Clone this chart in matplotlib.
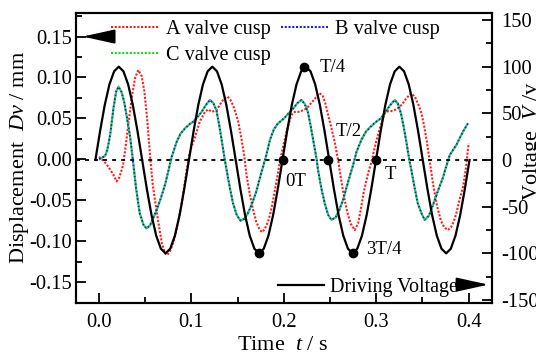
import numpy as np
import matplotlib
matplotlib.use("Agg")
import matplotlib.pyplot as plt
from matplotlib.lines import Line2D

plt.rcParams['font.family'] = ['Liberation Serif', 'DejaVu Serif']
plt.rcParams['mathtext.fontset'] = 'custom'
plt.rcParams['mathtext.rm'] = 'Liberation Serif'
plt.rcParams['mathtext.it'] = 'Liberation Serif:italic'

# ---------------- data ----------------
# Driving voltage (V) sampled on a regular time grid
volt_time = np.linspace(-0.004, 0.401, 81)
volt_vals = [0, 31, 59, 81, 95, 100, 95, 81, 59, 31, 0, -31, -59, -81, -95, -100, -95, -81, -59, -31,
             0, 31, 59, 81, 95, 100, 95, 81, 59, 31, 0, -31, -59, -81, -95, -100, -95, -81, -59, -31,
             0, 31, 59, 81, 95, 100, 95, 81, 59, 31, 0, -31, -59, -81, -95, -100, -95, -81, -59, -31,
             0, 31, 59, 81, 95, 100, 95, 81, 59, 31, 0, -31, -59, -81, -95, -100, -95, -81, -59, -31,
             0]

# A valve cusp displacement (mm)
a_time = [0.000, 0.005, 0.010, 0.015, 0.019, 0.022, 0.026, 0.029, 0.032, 0.036, 0.039, 0.0425,
          0.046, 0.049, 0.052, 0.0555, 0.058, 0.0605, 0.064, 0.068, 0.0715, 0.0735, 0.076, 0.079,
          0.082, 0.0855, 0.0894, 0.0925, 0.0948, 0.0975, 0.100, 0.104, 0.109, 0.1146, 0.118, 0.122,
          0.127, 0.131, 0.135, 0.139, 0.142, 0.145, 0.148, 0.1506, 0.154, 0.157, 0.1597, 0.1635,
          0.1668, 0.170, 0.1735, 0.176, 0.179, 0.183, 0.186, 0.189, 0.192, 0.1957, 0.1985, 0.203,
          0.208, 0.212, 0.217, 0.2245, 0.232, 0.2385, 0.242, 0.245, 0.248, 0.2515, 0.255, 0.259,
          0.262, 0.2655, 0.269, 0.2725, 0.2768, 0.2805, 0.2835, 0.2865, 0.291, 0.2955, 0.2995,
          0.304, 0.309, 0.313, 0.318, 0.323, 0.327, 0.333, 0.338, 0.342, 0.346, 0.349, 0.352, 0.355,
          0.358, 0.3615, 0.366, 0.370, 0.3735, 0.3776, 0.381, 0.384, 0.3867, 0.390, 0.394, 0.397,
          0.400]
a_disp = [0.003, -0.002, -0.009, -0.018, -0.027, -0.022, -0.007, 0.018, 0.046, 0.080, 0.100, 0.109,
          0.102, 0.083, 0.050, 0.000, -0.030, -0.050, -0.076, -0.103, -0.115, -0.117, -0.114, -0.106,
          -0.095, -0.077, -0.055, -0.030, -0.013, 0.005, 0.015, 0.028, 0.046, 0.058, 0.061, 0.058,
          0.060, 0.067, 0.074, 0.0766, 0.073, 0.066, 0.056, 0.046, 0.026, 0.005, -0.020, -0.045,
          -0.062, -0.076, -0.085, -0.089, -0.086, -0.076, -0.063, -0.046, -0.027, -0.003, 0.012, 0.034,
          0.054, 0.058, 0.058, 0.062, 0.072, 0.0807, 0.078, 0.068, 0.054, 0.038, 0.0215, -0.003,
          -0.025, -0.048, -0.066, -0.079, -0.0865, -0.078, -0.060, -0.040, -0.018, 0.000, 0.020,
          0.038, 0.056, 0.059, 0.059, 0.062, 0.066, 0.075, 0.0807, 0.076, 0.066, 0.056, 0.040, 0.020,
          -0.003, -0.030, -0.058, -0.075, -0.083, -0.0865, -0.083, -0.076, -0.066, -0.050, -0.0335, -0.012,
          0.0195]

# C valve cusp displacement (mm)
c_time = [0.000, 0.003, 0.0065, 0.009, 0.012, 0.0155, 0.0185, 0.021, 0.024, 0.027, 0.030, 0.0335,
          0.037, 0.040, 0.044, 0.048, 0.0515, 0.055, 0.059, 0.0623, 0.067, 0.0714, 0.075, 0.0786,
          0.084, 0.088, 0.093, 0.098, 0.102, 0.106, 0.111, 0.116, 0.120, 0.1235, 0.127, 0.130,
          0.1326, 0.136, 0.138, 0.1416, 0.145, 0.149, 0.153, 0.157, 0.161, 0.165, 0.170, 0.174,
          0.178, 0.181, 0.185, 0.189, 0.193, 0.197, 0.201, 0.205, 0.210, 0.215, 0.219, 0.2225,
          0.226, 0.229, 0.232, 0.2355, 0.237, 0.2405, 0.2443, 0.248, 0.2515, 0.256, 0.260, 0.264,
          0.2677, 0.2715, 0.275, 0.2786, 0.284, 0.289, 0.294, 0.300, 0.305, 0.309, 0.315, 0.320,
          0.3235, 0.327, 0.330, 0.3326, 0.336, 0.338, 0.3416, 0.345, 0.349, 0.3524, 0.357, 0.3614,
          0.366, 0.372, 0.376, 0.3795, 0.3867, 0.394, 0.3993]
c_disp = [0.000, 0.002, 0.004, 0.012, 0.030, 0.062, 0.083, 0.0888, 0.083, 0.071, 0.052, 0.028,
          -0.005, -0.035, -0.066, -0.080, -0.0845, -0.081, -0.071, -0.062, -0.047, -0.031, -0.014, 0.003,
          0.0215, 0.031, 0.038, 0.043, 0.046, 0.051, 0.058, 0.067, 0.0725, 0.069, 0.060, 0.042,
          0.024, 0.000, -0.013, -0.035, -0.054, -0.068, -0.075, -0.073, -0.066, -0.056, -0.040, -0.023,
          -0.007, 0.005, 0.024, 0.036, 0.043, 0.047, 0.051, 0.056, 0.062, 0.069, 0.0725, 0.068,
          0.058, 0.041, 0.022, 0.000, -0.013, -0.035, -0.054, -0.068, -0.074, -0.071, -0.062, -0.050,
          -0.035, -0.020, -0.007, 0.009, 0.024, 0.034, 0.040, 0.046, 0.050, 0.056, 0.066, 0.0725,
          0.068, 0.055, 0.038, 0.0215, -0.002, -0.013, -0.035, -0.054, -0.066, -0.074, -0.069, -0.056,
          -0.041, -0.023, -0.008, 0.005, 0.0175, 0.034, 0.044]

# B valve cusp (overlaps C almost exactly)
b_time = list(c_time)
b_disp = list(c_disp)

# marked phase points on the driving voltage
mark_time = [0.173, 0.1993, 0.222, 0.248, 0.2746, 0.300]
mark_volt = [-100, 0, 100, 0, -100, 0]
phase_labels = ['0T', 'T/4', 'T/2', '3T/4', 'T']
phase_label_time = [0.2011, 0.2389, 0.2562, 0.2894, 0.3092]
phase_label_volt = [-23, 99, 31, -96, -15]

x_ticks = [0.0, 0.1, 0.2, 0.3, 0.4]
x_tick_labels = ['0.0', '0.1', '0.2', '0.3', '0.4']
left_ticks = [-0.15, -0.10, -0.05, 0.00, 0.05, 0.10, 0.15]
left_tick_labels = ['-0.15', '-0.10', '-0.05', '0.00', '0.05', '0.10', '0.15']
right_ticks = [-150, -100, -50, 0, 50, 100, 150]
right_tick_labels = ['-150', '-100', '-50', '0', '50', '100', '150']

# ---------------- figure ----------------
W, H = 536, 356
fig = plt.figure(figsize=(W / 100, H / 100), dpi=100)
L, R, T, B = 76, 491.7, 13, 303.3
ax = fig.add_axes([L / W, 1 - B / H, (R - L) / W, (B - T) / H])
ax2 = ax.twinx()

dot = (0, (1.0, 0.8))
ax.plot(a_time, a_disp, color='#ff1a1a', lw=1.5, linestyle=dot, label='A valve cusp', zorder=3)
ax.plot(b_time, b_disp, color='#1a1aff', lw=1.5, linestyle=dot, label='B valve cusp', zorder=3)
ax.plot(c_time, c_disp, color='#11dd11', lw=1.5, linestyle=(0.9, (1.0, 0.8)), label='C valve cusp', zorder=3)

ax2.axhline(0, color='black', lw=1.3, linestyle=(0, (2.2, 2.8)), zorder=1)
ax2.plot(volt_time, volt_vals, color='black', lw=1.6, label='Driving Voltage', zorder=4)
ax2.plot(mark_time, mark_volt, 'o', color='black', ms=6, zorder=5)
for lab, tx, ty in zip(phase_labels, phase_label_time, phase_label_volt):
    ax2.text(tx, ty, lab, fontsize=13.5, ha='left', va='center')

ax.set_xlim(-0.025, 0.425)
ax.set_ylim(-0.176, 0.1788)
ax2.set_ylim(-153.5, 157.5)

ax.set_xticks(x_ticks)
ax.set_xticklabels(x_tick_labels)
ax.set_xticks([0.05, 0.15, 0.25, 0.35], minor=True)
ax.set_yticks(left_ticks)
ax.set_yticklabels(left_tick_labels)
ax.set_yticks([-0.125, -0.075, -0.025, 0.025, 0.075, 0.125, 0.175], minor=True)
ax2.set_yticks(right_ticks)
ax2.set_yticklabels(right_tick_labels)
ax2.set_yticks([-125, -75, -25, 25, 75, 125], minor=True)

ax.tick_params(axis='x', which='major', direction='in', length=7, width=1.3, labelsize=14.8, pad=7)
ax.tick_params(axis='x', which='minor', direction='in', length=4, width=1.3)
ax.tick_params(axis='y', which='major', direction='in', length=7, width=1.3, labelsize=14.8, pad=3)
ax.tick_params(axis='y', which='minor', direction='in', length=4, width=1.3)
ax2.tick_params(axis='y', which='major', direction='in', length=7, width=1.3, labelsize=14.8, pad=7)
ax2.tick_params(axis='y', which='minor', direction='in', length=4, width=1.3)
for a in (ax, ax2):
    for s in a.spines.values():
        s.set_linewidth(1.5)

# axis labels
fig.text(20 / W, 1 - 158 / H, 'Displacement  $Dv$ / mm', rotation=90, ha='center', va='center', fontsize=16)
fig.text(283 / W, 1 - 345 / H, 'Time  $t$ / s', ha='center', va='center', fontsize=16)
fig.text(521 / W, 1 - 141 / H, 'Voltage  $V$ /v', rotation=90, ha='left', va='center', fontsize=16)

# legends
h1 = [Line2D([], [], color='#ff1a1a', lw=1.5, linestyle=dot),
      Line2D([], [], color='#11dd11', lw=1.5, linestyle=dot),
      Line2D([], [], color='#1a1aff', lw=1.5, linestyle=dot)]
l1 = ['A valve cusp', 'C valve cusp', 'B valve cusp']
leg1 = ax2.legend(h1, l1, ncol=2, loc='upper left', bbox_to_anchor=((111 - L) / (R - L), 0.975),
                  frameon=False, fontsize=14.6, handlelength=2.35, handletextpad=0.35,
                  columnspacing=0.5, labelspacing=0.33, borderpad=0, borderaxespad=0)
ax2.add_artist(leg1)
h2 = [Line2D([], [], color='black', lw=1.6)]
ax2.legend(h2, ['Driving Voltage'], loc='lower left', bbox_to_anchor=((278 - L) / (R - L), 0.02),
           frameon=False, fontsize=14.5, handlelength=2.3, handletextpad=0.3, borderpad=0,
           borderaxespad=0)

# arrows
ax.annotate('', xy=(-0.0178, 0.15), xytext=(0.0151, 0.15),
            arrowprops=dict(arrowstyle='-|>,head_length=1.0,head_width=0.22', mutation_scale=20,
                            color='black', lw=1.3, shrinkA=0, shrinkB=0))
ax2.annotate('', xy=(0.4215, -133.5), xytext=(0.386, -133.5),
             arrowprops=dict(arrowstyle='-|>,head_length=1.0,head_width=0.22', mutation_scale=20,
                             color='black', lw=1.3, shrinkA=0, shrinkB=0))

fig.savefig('out.png', dpi=100)
